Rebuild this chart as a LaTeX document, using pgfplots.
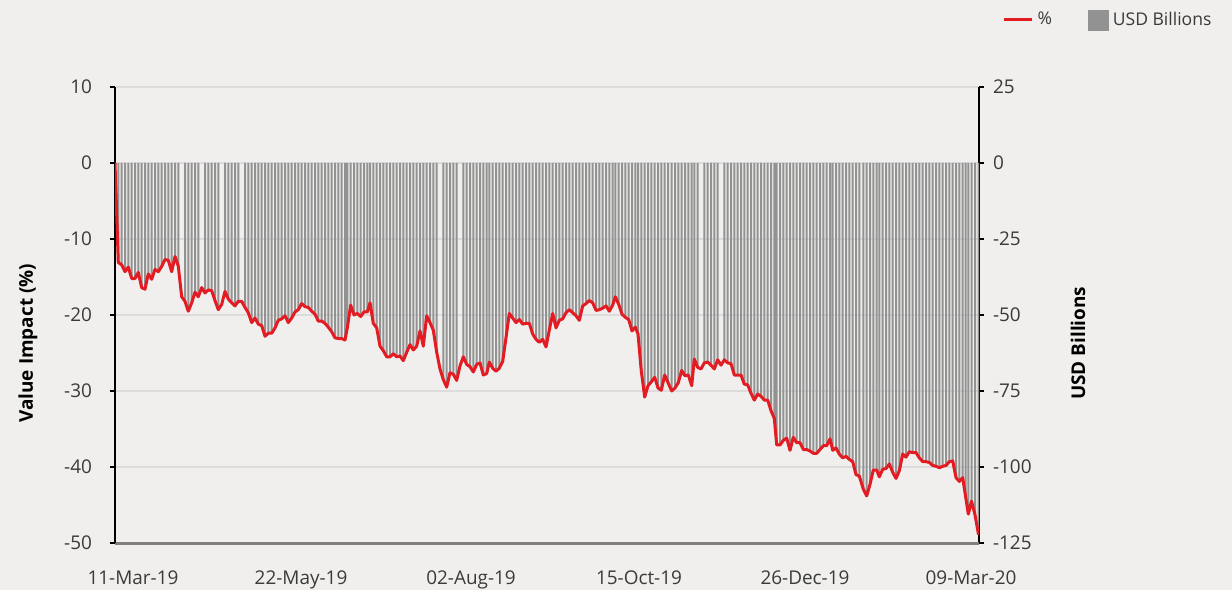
\documentclass[border=0pt]{standalone}
\usepackage{pgfplots}
\pgfplotsset{compat=1.18}
\usepackage{pgfplotstable}
\usepackage{fontspec}
\setmainfont{Open Sans}
\definecolor{bg}{HTML}{F0EFED}
\definecolor{barg}{HTML}{929292}
\definecolor{lred}{HTML}{E31B23}
\definecolor{txt}{HTML}{3A3A3A}
\definecolor{gridc}{HTML}{DDDBDB}
\definecolor{xaxc}{HTML}{7F7F7F}

% d = position along the year (trading-day axis), p = value impact in %, g = 1 if a USD bar is shown
\pgfplotstableread{
d p g
0 0 1
3.3 -13.1 1
6.7 -13.4 1
10 -14.3 1
13.3 -13.7 1
16.7 -15.2 1
20 -15.2 1
23.3 -14.4 1
26.7 -16.4 1
30 -16.6 1
33.3 -14.6 1
36.7 -15.3 1
40 -14.0 1
43.3 -14.3 1
46.7 -13.6 1
50 -12.7 1
53.3 -12.8 1
56.7 -14.3 1
60 -12.3 1
63.3 -13.6 1
66.7 -17.6 0
70 -18.2 1
73.3 -19.5 1
76.7 -18.4 1
80 -17.0 1
83.3 -17.6 1
86.7 -16.4 0
90 -17.1 1
93.3 -16.7 1
96.7 -16.8 1
100 -18.1 1
103.3 -19.3 1
106.7 -18.6 0
110 -16.9 1
113.3 -17.9 1
116.7 -18.4 1
120 -18.8 1
123.3 -18.2 1
126.7 -18.2 0
130 -19.0 1
133.3 -19.7 1
136.7 -21.0 1
140 -20.4 1
143.3 -21.2 1
146.7 -21.4 1
150 -22.8 1
153.3 -22.4 1
156.7 -22.4 1
160 -21.7 1
163.3 -20.7 1
166.7 -20.5 1
170 -20.1 1
173.3 -21.0 1
176.7 -20.4 1
180 -19.6 1
183.3 -19.3 1
186.7 -18.5 1
190 -18.9 1
193.3 -19.0 1
196.7 -19.5 1
200 -19.9 1
203.3 -20.8 1
206.7 -20.8 1
210 -21.1 1
213.3 -21.6 1
216.7 -22.2 1
220 -23.0 1
223.3 -23.1 1
226.7 -23.1 1
230 -23.3 1
232.3 -21.7 1
235.7 -18.7 1
239 -20.0 1
242.3 -19.8 1
245.7 -20.2 1
249 -19.6 1
252.3 -19.6 1
255 -18.4 1
258.3 -21.1 1
261.7 -21.7 1
265 -24.1 1
268.3 -24.7 1
271.7 -25.5 1
275 -25.5 1
278.3 -25.1 1
281.7 -25.5 1
285 -25.4 1
288.3 -26.0 1
291.7 -24.9 1
295 -23.9 1
298.3 -24.6 1
301.7 -24.1 1
305 -22.1 1
308.3 -24.1 1
311.7 -20.1 1
315 -21.0 1
318.3 -22.0 1
321.7 -24.9 1
325 -27.1 0
328.3 -28.5 1
331.7 -29.5 1
335 -27.6 1
338.3 -27.8 1
341.7 -28.6 1
345 -26.7 0
348.3 -25.5 1
351.7 -26.5 1
355 -26.8 1
358.3 -27.5 1
361.7 -26.5 1
365 -26.3 1
368.3 -27.9 1
371.7 -27.7 1
374.3 -26.2 1
377.7 -27.0 1
381 -27.4 1
384.3 -27.0 1
387.7 -26.1 1
391 -23.0 1
394.3 -19.8 1
397.7 -20.4 1
401 -21.0 1
404.3 -20.6 1
407.7 -21.2 1
411 -21.1 1
414.3 -21.1 1
417.7 -22.5 1
421 -23.2 1
424.3 -23.6 1
427.7 -23.2 1
431 -24.2 1
434.3 -22.0 1
437.7 -19.8 1
441 -21.7 1
444.3 -20.7 1
447.7 -20.5 1
451 -19.7 1
454.3 -19.3 1
457.7 -19.7 1
461 -20.1 1
464.3 -20.7 1
467.7 -18.8 1
471 -18.5 1
474.3 -18.1 1
477.7 -18.4 1
481 -19.4 1
484.3 -19.3 1
487.7 -19.1 1
491 -18.8 1
494.3 -19.5 1
497.7 -18.7 1
500.3 -17.6 1
503.7 -18.6 1
507 -19.9 1
510.3 -20.3 1
513.7 -20.6 1
517 -22.1 1
520.3 -21.6 1
523 -22.5 1
526.3 -27.4 1
529.7 -30.8 1
533 -29.3 1
536.3 -28.8 1
539.7 -28.2 1
543 -29.6 1
546.3 -29.9 1
549.7 -27.9 1
553 -28.9 1
556.7 -30.0 1
560 -29.6 1
563.3 -28.9 1
566.7 -27.3 1
570 -28.0 1
573.3 -27.9 1
576.7 -29.3 1
579.3 -25.8 1
582.7 -26.9 1
586 -27.1 0
589.3 -26.3 1
592.7 -26.2 1
596 -26.6 1
599.3 -27.1 1
602.7 -25.9 1
606 -26.6 0
609.3 -25.9 1
612.7 -26.3 1
616 -26.4 1
619.3 -27.9 1
622.7 -27.9 1
626 -27.9 1
629.3 -29.1 1
632.7 -29.2 1
636 -30.3 1
639.3 -31.2 1
642.7 -30.4 1
646 -30.7 1
649.3 -31.2 1
652.7 -31.2 1
656 -32.6 1
659.3 -33.6 1
661.7 -37.1 1
665 -37.1 1
668.3 -36.5 1
671.7 -36.2 1
675 -37.8 1
678.3 -36.1 1
681.7 -36.8 1
685 -36.8 1
688.3 -37.7 1
691.7 -37.7 1
695 -37.9 1
698.3 -38.2 1
701.7 -38.2 1
705 -37.7 1
708.3 -37.2 1
711.7 -37.2 1
715 -36.3 1
717.7 -37.8 1
721 -37.5 1
724.3 -38.3 1
727.7 -38.8 1
731 -38.6 1
734.3 -39.0 1
737.7 -39.3 1
741 -41.0 1
744.3 -41.2 1
748.3 -42.9 1
751.7 -43.8 1
755 -42.3 1
758.3 -40.4 1
761.7 -40.4 1
764.3 -41.3 1
767.7 -40.3 1
771 -40.2 1
774.3 -39.6 1
777.7 -40.7 1
781 -41.5 1
784.3 -40.5 1
787.7 -38.3 1
791 -38.7 1
794.3 -38.0 1
797.7 -38.1 1
801 -38.1 1
804.3 -38.8 1
807.7 -39.3 1
811 -39.3 1
814.3 -39.4 1
817.7 -39.8 1
821 -39.9 1
824.3 -40.1 1
827.7 -39.9 1
831 -39.8 1
834.3 -39.3 1
837.7 -39.2 1
841 -41.4 1
844.3 -41.9 1
847.7 -41.4 1
850.5 -43.8 1
853.3 -46.2 1
856.5 -44.5 1
860 -46.3 1
863.5 -48.9 1
}\data

\begin{document}
\begin{tikzpicture}
\fill[bg] (0,0) rectangle (616bp,295bp);
\useasboundingbox (0,0) rectangle (616bp,295bp);
% ---- right axis: USD Billions (bars) ----
\begin{axis}[
  at={(57.5bp,23.5bp)}, anchor=south west,
  width=432bp, height=228bp, scale only axis,
  xmin=0, xmax=864, ymin=-125, ymax=25,
  axis y line*=right, axis x line=none,
  y axis line style={black, line width=0.7bp, -},
  ytick={-125,-100,-75,-50,-25,0,25},
  yticklabels={-125,-100,-75,-50,-25,0,25},
  ymajorgrids, grid style={gridc, line width=0.6bp},
  tick align=outside, major tick length=2.5bp,
  ytick style={black, line width=0.6bp},
  yticklabel style={font=\fontsize{9.5}{11}\selectfont, text=txt, xshift=1bp},
  ylabel={USD Billions},
  ylabel style={font=\fontsize{9.5}{11}\selectfont\bfseries, text=black,
    at={(axis description cs:1.1146,0.438)}, anchor=center},
]
\addplot[ybar, bar width=1bp, bar shift=0pt, fill=barg, draw=none,
  restrict expr to domain={\thisrow{g}}{0.5:1.5}]
  table[x=d, y expr=2.5*\thisrow{p}] {\data};
\end{axis}
% ---- left axis: Value Impact (%) (line) ----
\begin{axis}[
  at={(57.5bp,23.5bp)}, anchor=south west,
  width=432bp, height=228bp, scale only axis,
  xmin=0, xmax=864, ymin=-50, ymax=10,
  axis y line*=left, axis x line*=bottom,
  y axis line style={black, line width=0.7bp, -},
  x axis line style={xaxc, line width=1.5bp, -},
  ytick={-50,-40,-30,-20,-10,0,10},
  yticklabels={-50,-40,-30,-20,-10,0,10},
  xtick={18,186,356,524,690,856},
  xticklabels={11-Mar-19,22-May-19,02-Aug-19,15-Oct-19,26-Dec-19,09-Mar-20},
  tick align=outside, major tick length=2.5bp,
  ytick style={black, line width=0.6bp},
  xtick style={draw=none},
  yticklabel style={font=\fontsize{9.5}{11}\selectfont, text=txt, xshift=-5.5bp},
  xticklabel style={font=\fontsize{9.5}{11}\selectfont, text=txt, yshift=-8bp},
  ylabel={Value Impact (\%)},
  ylabel style={font=\fontsize{9.5}{11}\selectfont\bfseries, text=black,
    at={(axis description cs:-0.1007,0.438)}, anchor=center},
  legend style={draw=none, fill=none, legend columns=2,
    at={(axis description cs:1.281,1.147)}, anchor=east,
    font=\fontsize{8.8}{10}\selectfont, text=txt,
    /tikz/every even column/.append style={column sep=16bp}},
  legend cell align=left,
]
\addlegendimage{legend image code/.code={\draw[lred, line width=1.5bp] (0bp,0bp) -- (14bp,0bp);}}
\addlegendentry{\%}
\addlegendimage{legend image code/.code={\fill[barg] (2bp,-5bp) rectangle (12bp,5bp);}}
\addlegendentry{USD Billions}
\addplot[lred, line width=1.5bp, line join=round, forget plot]
  table[x=d, y=p] {\data};
\end{axis}
\end{tikzpicture}
\end{document}
